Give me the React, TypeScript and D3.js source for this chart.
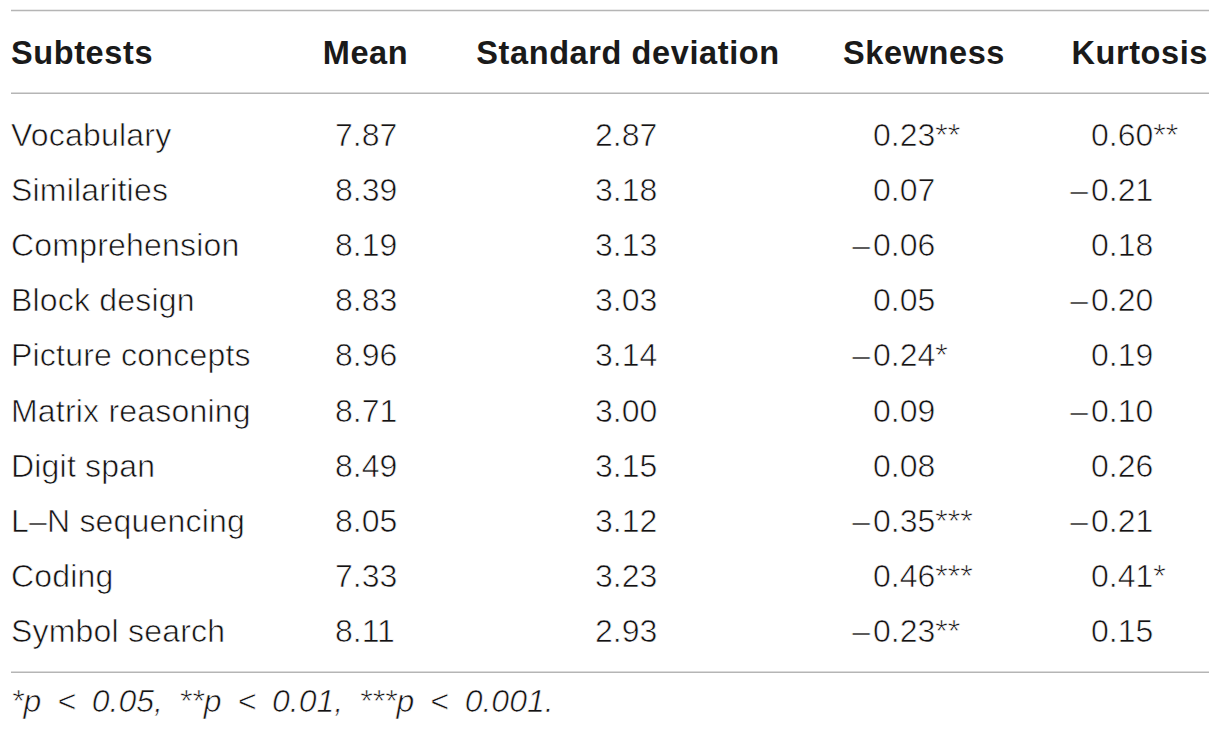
import React from "react";
import * as d3 from "d3";

const subtests = [
  "Vocabulary",
  "Similarities",
  "Comprehension",
  "Block design",
  "Picture concepts",
  "Matrix reasoning",
  "Digit span",
  "L–N sequencing",
  "Coding",
  "Symbol search",
];
const means = ["7.87", "8.39", "8.19", "8.83", "8.96", "8.71", "8.49", "8.05", "7.33", "8.11"];
const sds = ["2.87", "3.18", "3.13", "3.03", "3.14", "3.00", "3.15", "3.12", "3.23", "2.93"];
const skewness = ["0.23**", "0.07", "−0.06", "0.05", "−0.24*", "0.09", "0.08", "−0.35***", "0.46***", "−0.23**"];
const kurtosis = ["0.60**", "−0.21", "0.18", "−0.20", "0.19", "−0.10", "0.26", "−0.21", "0.41*", "0.15"];
const headers = ["Subtests", "Mean", "Standard deviation", "Skewness", "Kurtosis"];
const footnote = "*p < 0.05, **p < 0.01, ***p < 0.001.";

const W = 1221;
const H = 734;
const FONT = "'Liberation Sans', Arial, Helvetica, sans-serif";

export default function App() {
  const y = d3.scalePoint<string>().domain(subtests).range([146, 642]);
  const left = 11;
  const right = 1209;
  const bodyColor = "#141213";
  const thin = { stroke: "#fff", strokeWidth: 0.65 } as const;

  const numCell = (v: string, x0: number, key: string, yy: number) => {
    const neg = v.startsWith("−");
    const rest = neg ? v.slice(1) : v;
    return (
      <g key={key}>
        {neg && (
          <text x={x0 - 3} y={yy} textAnchor="end" fontFamily={FONT} fontSize={32} fill={bodyColor} {...thin}>
            –
          </text>
        )}
        <text x={x0} y={yy} fontFamily={FONT} fontSize={32} fill={bodyColor} {...thin}>
          {rest}
        </text>
      </g>
    );
  };

  return (
    <svg
      width={W}
      height={H}
      style={{ position: "absolute", left: 0, top: 0, background: "#fff" }}
    >
      <line x1={left} x2={right} y1={10.5} y2={10.5} stroke="#b5b5b5" strokeWidth={1.5} />
      <line x1={left} x2={right} y1={93.3} y2={93.3} stroke="#b5b5b5" strokeWidth={1.5} />
      <line x1={left} x2={right} y1={672.3} y2={672.3} stroke="#b5b5b5" strokeWidth={1.5} />

      <g fontFamily={FONT} fontWeight="bold" fontSize={32.5} letterSpacing={0.6} fill="#1a1a1a">
        <text x={left} y={64}>{headers[0]}</text>
        <text x={365.5} y={64} textAnchor="middle">{headers[1]}</text>
        <text x={628} y={64} textAnchor="middle">{headers[2]}</text>
        <text x={924} y={64} textAnchor="middle">{headers[3]}</text>
        <text x={1208} y={64} textAnchor="end">{headers[4]}</text>
      </g>

      {subtests.map((s, i) => {
        const yy = y(s)!;
        return (
          <g key={s}>
            <text x={left} y={yy} fontFamily={FONT} fontSize={32} fill={bodyColor} letterSpacing={0.2} {...thin}>
              {s}
            </text>
            {numCell(means[i], 335, "m" + i, yy)}
            {numCell(sds[i], 595, "s" + i, yy)}
            {numCell(skewness[i], 873, "k" + i, yy)}
            {numCell(kurtosis[i], 1091, "u" + i, yy)}
          </g>
        );
      })}

      <text
        x={left}
        y={712}
        fontFamily={FONT}
        fontSize={32}
        fontStyle="italic"
        wordSpacing={7}
        fill={bodyColor}
        {...thin}
      >
        {footnote}
      </text>
    </svg>
  );
}
